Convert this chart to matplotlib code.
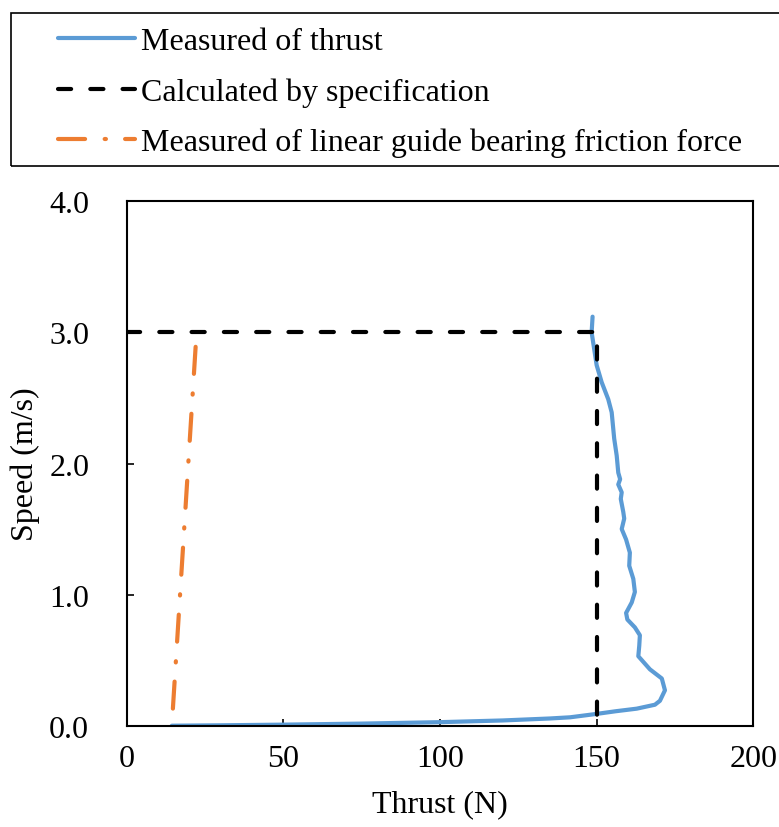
import matplotlib
matplotlib.use('Agg')
import matplotlib.pyplot as plt
from matplotlib.patches import Rectangle

plt.rcParams['font.family'] = ['Liberation Serif', 'DejaVu Serif']

# Measured thrust (N) vs speed (m/s)
thrust_meas = [14.4, 30, 50, 75, 100, 120, 135, 141.5, 150.0, 156.0, 162.8, 168.6,
               170.2, 171.8, 170.8, 167.0, 163.3, 163.6, 163.8, 162.2, 159.8, 159.4,
               161.2, 162.2, 161.7, 160.4, 160.6, 159.4, 158.0, 158.8, 158.5, 157.7,
               158.0, 156.9, 157.5, 156.9, 156.4, 155.6, 154.8, 153.7, 151.6, 150.0,
               148.4, 148.7]
speed_meas = [0.0, 0.003, 0.008, 0.016, 0.027, 0.04, 0.055, 0.064, 0.09, 0.11, 0.13, 0.16,
              0.19, 0.27, 0.36, 0.43, 0.53, 0.61, 0.69, 0.75, 0.81, 0.86,
              0.94, 1.02, 1.12, 1.22, 1.32, 1.42, 1.50, 1.58, 1.63, 1.73,
              1.78, 1.84, 1.88, 1.93, 2.06, 2.19, 2.39, 2.49, 2.62, 2.75,
              3.00, 3.12]

# Calculated by specification
thrust_calc = [0, 150, 150]
speed_calc = [3.0, 3.0, 0.0]

# Linear guide bearing friction force (top to bottom)
thrust_fric = [22.0, 14.4]
speed_fric = [2.89, 0.0]

W, H = 779, 828
FS = 23
fig = plt.figure(figsize=(W / 100, H / 100), dpi=100)
ax = fig.add_axes([126.7 / W, 1 - 726.7 / H, 626.6 / W, 524.4 / H])

ax.plot(thrust_meas, speed_meas, color='#5B9BD5', lw=3, solid_joinstyle='round',
        solid_capstyle='round', label='Measured of thrust')
ax.plot(thrust_calc, speed_calc, color='black', lw=3, linestyle=(0, (3.15, 4.6)),
        dash_capstyle='round', label='Calculated by specification')
ax.plot(thrust_fric, speed_fric, color='#ED7D31', lw=3,
        linestyle=(0, (6.5, 4.7, 0.3, 4.6)), dash_capstyle='round',
        label='Measured of linear guide bearing friction force')

ax.set_xlim(0, 200)
ax.set_ylim(0, 4.0)
ax.set_xticks([0, 50, 100, 150, 200])
ax.set_yticks([0, 1, 2, 3, 4])
ax.set_yticklabels(['0.0', '1.0', '2.0', '3.0', '4.0'])
ax.tick_params(direction='in', length=5, width=1.2, labelsize=FS, colors='black')
ax.tick_params(axis='y', pad=27)
ax.tick_params(axis='x', pad=13)
for s in ax.spines.values():
    s.set_linewidth(1.5)

ax.set_xlabel('Thrust (N)', fontsize=FS, va='center')
ax.set_ylabel('Speed (m/s)', fontsize=FS, va='center')
ax.xaxis.set_label_coords(0.5, (726.7 - 805) / 524.4)
ax.yaxis.set_label_coords((25 - 126.7) / 626.6, 0.5)

# legend box at the top of the figure
fig.patches.append(Rectangle((11 / W, 1 - 167 / H), (785 - 11) / W, (167 - 14) / H,
                             transform=fig.transFigure, fill=False,
                             edgecolor='black', linewidth=1.2))
handles, labels = ax.get_legend_handles_labels()
fig.legend(handles, labels, loc='upper left', bbox_to_anchor=(42 / W, 1 - 12 / H),
           frameon=False, borderpad=0, fontsize=FS, handlelength=2.4,
           handletextpad=0.2, labelspacing=0.66)

fig.savefig('out.png', dpi=100)
